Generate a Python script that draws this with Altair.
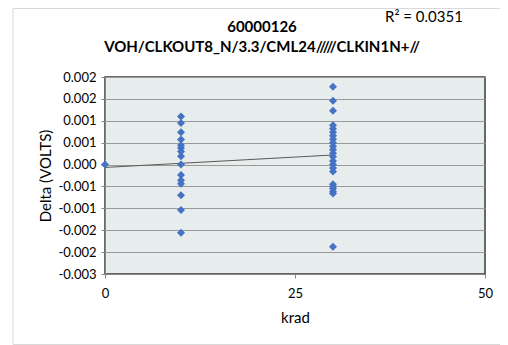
import altair as alt
import pandas as pd

# ---- data ----
krad_0 = [0]
delta_0 = [0.0]

krad_10 = [10] * 15
delta_10 = [0.00110, 0.00095, 0.00074, 0.00057, 0.00044, 0.00038, 0.00030, 0.00019,
            0.00000, -0.00024, -0.00036, -0.00044, -0.00070, -0.00104, -0.00156]

krad_30 = [30] * 23
delta_30 = [0.00178, 0.00146, 0.00123, 0.00090, 0.00082, 0.00074, 0.00066, 0.00058,
            0.00050, 0.00042, 0.00034, 0.00026, 0.00018, 0.00008, 0.00000, -0.00008,
            -0.00016, -0.00045, -0.00050, -0.00055, -0.00062, -0.00066, -0.00188]

y_ticks = [0.002, 0.0015, 0.001, 0.0005, 0, -0.0005, -0.001, -0.0015, -0.002, -0.0025]
y_tick_labels = ["0.002", "0.002", "0.001", "0.001", "0.000", "-0.001", "-0.001",
                 "-0.002", "-0.002", "-0.003"]
x_ticks = [0, 25, 50]

title_line1 = ["60000126"]
title_line2 = ["VOH/CLKOUT8_N/3.3/CML24/////CLKIN1N+//"]
r2_text = ["R\u00b2 = 0.0351"]

df = pd.DataFrame({
    "krad": krad_0 + krad_10 + krad_30,
    "delta": delta_0 + delta_10 + delta_30,
})

label_map = "{" + ",".join(f"'{v:g}':'{l}'" for v, l in zip(y_ticks, y_tick_labels)) + "}"
label_expr = f"{label_map}[''+datum.value]"

FONT = "Lato"
GRAY = "#868686"

x_enc = alt.X("krad:Q", scale=alt.Scale(domain=[0, 50], nice=False), title="krad",
              axis=alt.Axis(values=x_ticks, tickCount=len(x_ticks), grid=False,
                            labelFlush=False, domainColor=GRAY, tickColor=GRAY,
                            tickSize=4, labelPadding=9, labelFontSize=13, labelColor="#000000",
                            titleFontSize=15, titleFontWeight="normal", titleColor="#000000",
                            titleY=43, titleBaseline="middle", labelFont=FONT, titleFont=FONT))
y_enc = alt.Y("delta:Q", scale=alt.Scale(domain=[-0.0025, 0.002], nice=False, zero=False),
              title="Delta (VOLTS)",
              axis=alt.Axis(values=y_ticks, tickCount=len(y_ticks), labelExpr=label_expr,
                            labelOverlap=False, labelFlush=False, grid=True, gridColor="#9A9A9A",
                            gridWidth=1, domainColor=GRAY, tickColor=GRAY, tickSize=4,
                            labelPadding=5, labelFontSize=13, labelColor="#000000",
                            titleFontSize=15, titleFontWeight="normal", titleColor="#000000",
                            titleX=-60, titleY=98.5, titleAlign="center", titleBaseline="middle",
                            labelFont=FONT, titleFont=FONT))

points = alt.Chart(df).mark_point(shape="diamond", filled=True, size=64, color="#4472C4",
                                  opacity=1).encode(x=x_enc, y=y_enc)

trend = alt.Chart(df).transform_regression("krad", "delta").mark_line(
    color="#595959", strokeWidth=1).encode(x=x_enc, y=y_enc)

r2 = alt.Chart(pd.DataFrame({"t": r2_text})).mark_text(
    align="left", baseline="middle", fontSize=15, font=FONT, color="#000000"
).encode(text="t:N", x=alt.value(280), y=alt.value(-60))

t1 = alt.Chart(pd.DataFrame({"t": title_line1})).mark_text(
    align="center", baseline="middle", fontSize=15, font=FONT, fontWeight="bold", color="#000000"
).encode(text="t:N", x=alt.value(157), y=alt.value(-50))

t2 = alt.Chart(pd.DataFrame({"t": title_line2})).mark_text(
    align="center", baseline="middle", fontSize=15, font=FONT, fontWeight="bold", color="#000000"
).encode(text="t:N", x=alt.value(157), y=alt.value(-30))

frame = alt.Chart(pd.DataFrame({"a": [0]})).mark_rect(
    fillOpacity=0, stroke="#D9D9D9", strokeWidth=1
).encode(x=alt.value(-92), x2=alt.value(420), y=alt.value(-68.5), y2=alt.value(267.5))

chart = alt.layer(frame, trend, points, r2, t1, t2).properties(
    width=380, height=197,
    autosize=alt.AutoSizeParams(type="none"),
    padding={"left": 97, "top": 69, "right": 15, "bottom": 71},
    background="#FFFFFF",
).configure_view(fill="#E7ECEC", stroke="#3A3A3A", strokeWidth=1.5)

chart.save("out.html", embed_options={"renderer": "svg", "actions": False})
